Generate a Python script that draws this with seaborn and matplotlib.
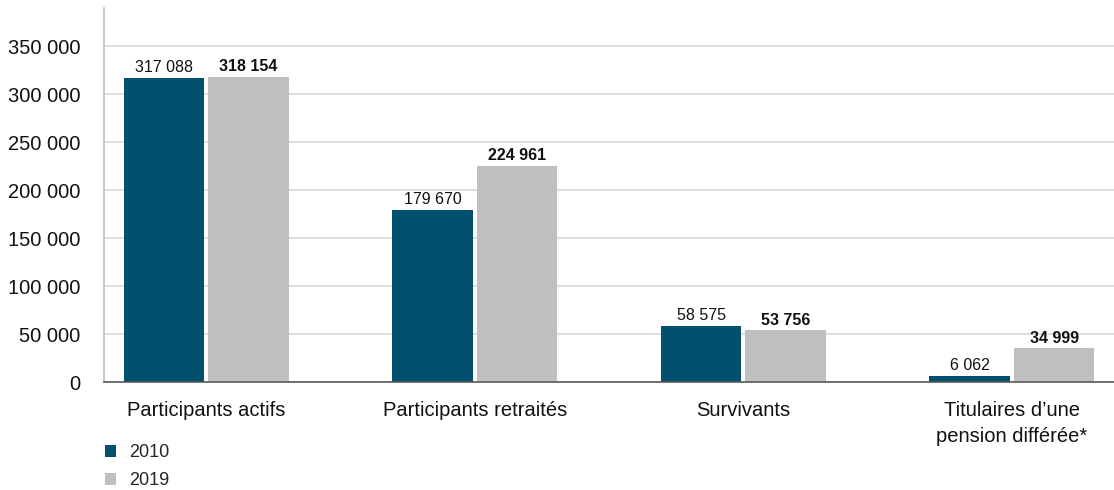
import matplotlib
matplotlib.use("Agg")
import matplotlib.pyplot as plt
import seaborn as sns
import pandas as pd
from matplotlib.patches import Patch

categories = ["Participants actifs", "Participants retraités", "Survivants",
              "Titulaires d\u2019une\npension différée*"]
years = ["2010", "2019"]
values_2010 = [317088, 179670, 58575, 6062]
values_2019 = [318154, 224961, 53756, 34999]
y_ticks = [0, 50000, 100000, 150000, 200000, 250000, 300000, 350000]

colors = {"2010": "#02506E", "2019": "#BFBFBF"}

df = pd.DataFrame({
    "categorie": categories * 2,
    "annee": ["2010"] * 4 + ["2019"] * 4,
    "valeur": values_2010 + values_2019,
})

sns.set_theme(style="white")
plt.rcParams["font.family"] = ["Liberation Sans", "DejaVu Sans"]


def fmt(v):
    return f"{int(v):,}".replace(",", " ")


fig = plt.figure(figsize=(11.14, 4.90), dpi=100)
ax = fig.add_axes([0.0934, 0.2204, 0.9066, 0.7633])

sns.barplot(data=df, x="categorie", y="valeur", hue="annee", order=categories,
            hue_order=years, palette=colors, width=0.63, gap=0.05,
            saturation=1, ax=ax, legend=False, edgecolor="none")

ax.set_xlim(-0.38, 3.38)
ax.set_ylim(0, 390000)
ax.set_yticks(y_ticks)
ax.set_yticklabels([fmt(t) for t in y_ticks], fontsize=14.5, color="#111111")
ax.set_xlabel("")
ax.set_ylabel("")
ax.tick_params(axis="y", length=0, pad=17)
ax.tick_params(axis="x", length=0, pad=14, labelsize=14.5, labelcolor="#111111")
for lab in ax.get_xticklabels():
    lab.set_linespacing(1.45)
ax.grid(axis="y", color="#D9D9D9", linewidth=1.2)
ax.set_axisbelow(True)

for s in ["top", "right"]:
    ax.spines[s].set_visible(False)
ax.spines["left"].set_color("#BFBFBF")
ax.spines["left"].set_linewidth(1.2)
ax.spines["bottom"].set_color("#595959")
ax.spines["bottom"].set_linewidth(1.2)

for container, year in zip(ax.containers, years):
    ax.bar_label(container, labels=[fmt(v) for v in container.datavalues],
                 padding=2, fontsize=11.5, color="#111111",
                 fontweight="bold" if year == "2019" else "normal")

handles = [Patch(facecolor=colors[y], edgecolor="none") for y in years]
fig.legend(handles, years, loc="upper left", bbox_to_anchor=(0.088, 0.108),
           frameon=False, fontsize=13, handlelength=0.6, handleheight=0.6,
           handletextpad=0.7, labelspacing=0.6, borderaxespad=0)

fig.savefig("out.png", dpi=100)
